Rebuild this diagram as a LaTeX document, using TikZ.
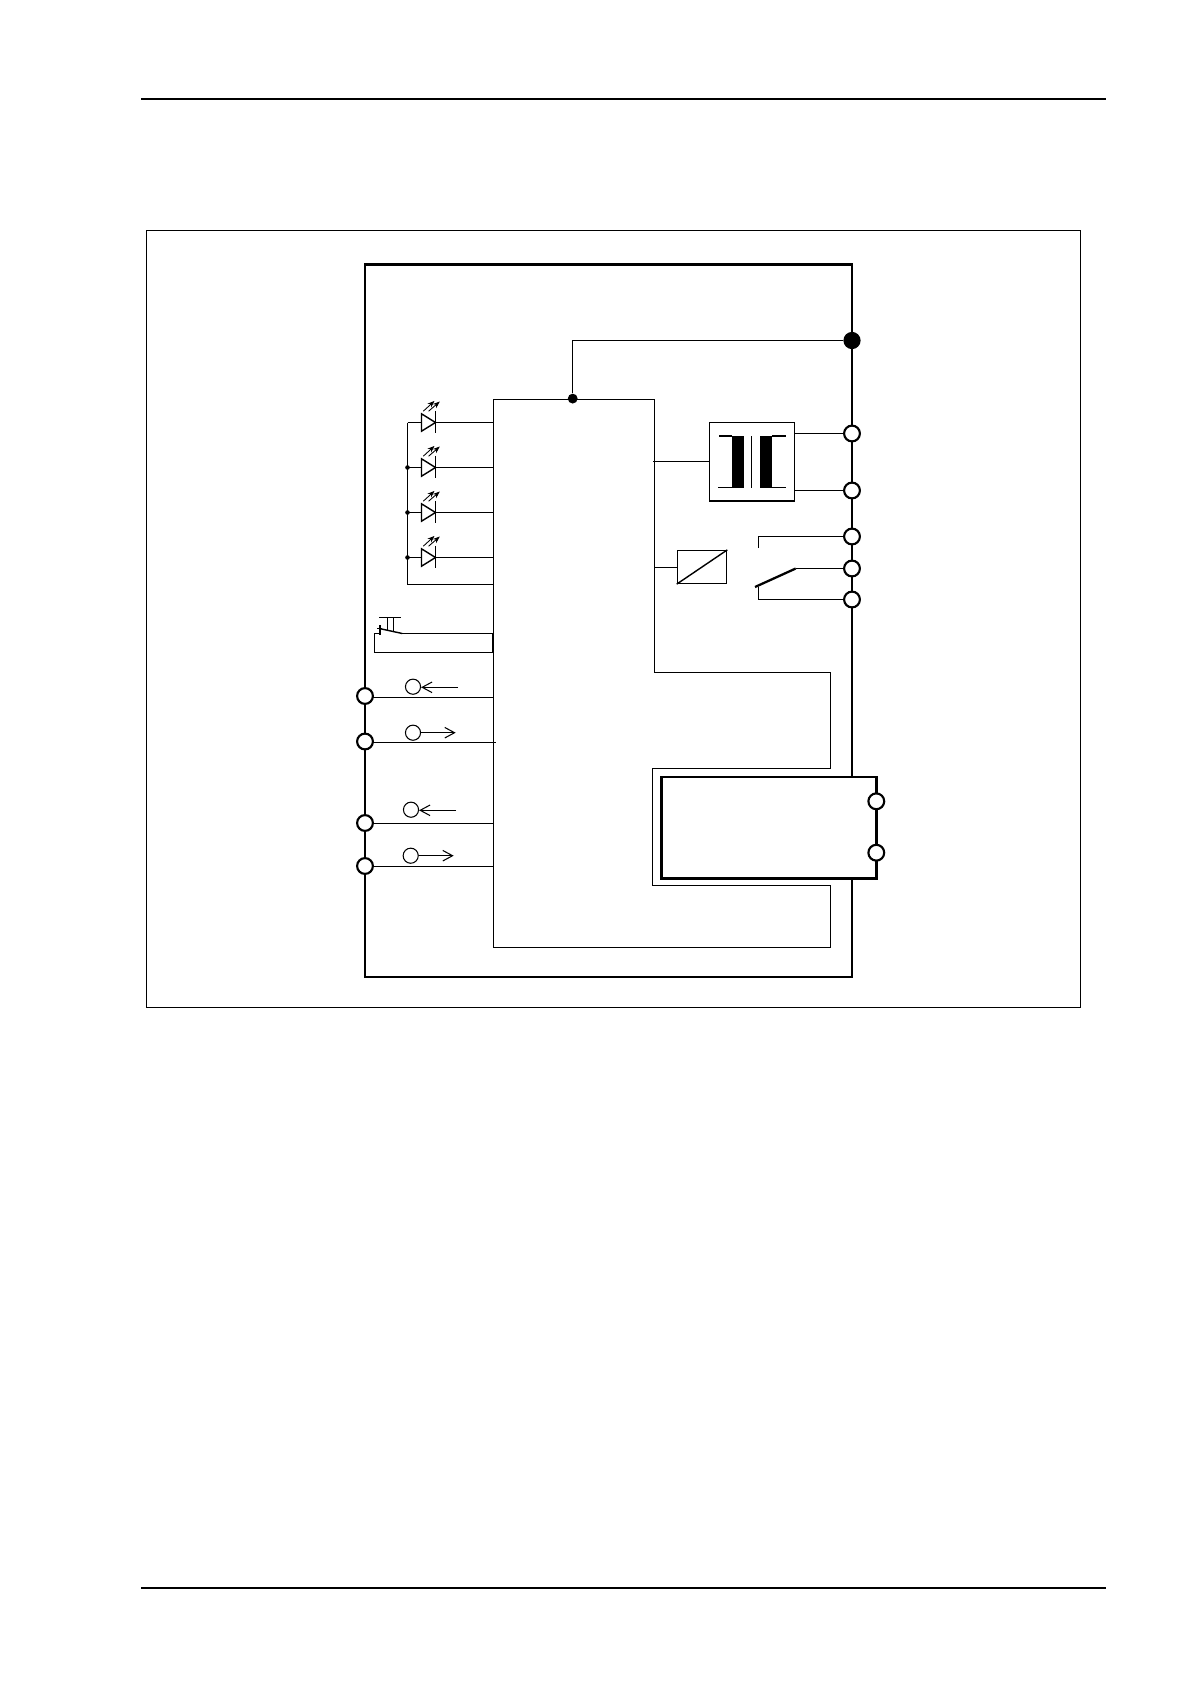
\documentclass[tikz,border=0pt]{standalone}
\usetikzlibrary{arrows.meta}
\pgfdeclarelayer{background}
\pgfsetlayers{background,main}
\tikzstyle{terminal}=[circle,draw,fill=white,line width=1.2pt,minimum size=9pt,inner sep=0pt]
\tikzstyle{probe}=[circle,draw,line width=0.6pt,minimum size=8.6pt,inner sep=0pt]
\tikzstyle{joint}=[circle,fill=black,minimum size=5.6pt,inner sep=0pt]
\tikzstyle{tap}=[circle,fill=black,minimum size=2.6pt,inner sep=0pt]
\tikzstyle{hub}=[circle,fill=black,minimum size=9.8pt,inner sep=0pt]
\tikzstyle{block}=[draw,line width=0.8pt,inner sep=0pt]
\tikzstyle{wire}=[draw,line width=0.8pt]
\tikzstyle{heavy}=[draw,line width=1.3pt]
\tikzstyle{rule}=[draw,line width=1.3pt]
\tikzstyle{flow}=[draw,line width=0.6pt,-{Straight Barb[length=5.6pt,width=6pt]}]
\tikzstyle{beam}=[draw,line width=0.5pt,-{Stealth[length=4pt,width=3pt]}]

\begin{document}
\begin{tikzpicture}[x=0.02cm,y=-0.02cm]
	\useasboundingbox (0,0) rectangle (1190,1684);

	% First we draw the blocks and the terminals
	\node[hub] (earth) at (852,340.5) {};
	\node[joint] (feed) at (572.7,398.6) {};
	\node[block,minimum width=48.4pt,minimum height=44.8pt] (trafo) at (752,461.8) {};
	\node[block,minimum width=28pt,minimum height=18.7pt] (conv) at (702,567) {};
	\node[draw,line width=1.35pt,minimum width=122.4pt,minimum height=57.6pt,inner sep=0pt] (modul) at (769,827.8) {};

	\foreach \pos/\name in {{(365,696)/la}, {(365,741.5)/lb}, {(365,823)/lc}, {(365,866)/ld},
							{(852,433.5)/ra}, {(852,490.5)/rb}, {(852,536.5)/rc}, {(852,568.5)/rd},
							{(852,599.5)/re}, {(876.3,801.3)/sa}, {(876.3,852.7)/sb}}
	\node[terminal] (\name) at \pos {};

	\foreach \pos/\name in {{(413,686.7)/pa}, {(413,732.7)/pb}, {(411,809.7)/pc}, {(410.7,855.7)/pd}}
	\node[probe] (\name) at \pos {};

	% Fixed points of the two buses
	\foreach \pos/\name in {{(493.5,399.5)/nw}, {(654.5,399.5)/ne}, {(654.5,672.5)/bend}, {(830.5,672.5)/bendr},
							{(830.5,768.5)/loopa}, {(652.5,768.5)/loopb}, {(652.5,885.5)/loopc},
							{(830.5,885.5)/loopd}, {(830.5,947.5)/loope}, {(493.5,947.5)/sw},
							{(365,264.5)/boxnw}, {(852,264.5)/boxne}, {(852,977)/boxse}, {(365,977)/boxsw}}
	\path \pos coordinate (\name);

	\begin{pgfonlayer}{background}
		% Outer frames
		\path[rule] (141,99) -- (1106,99);
		\path[rule] (141,1588) -- (1106,1588);
		\path[draw,line width=0.7pt] (146.5,230.5) rectangle (1080.5,1007.5);

		\path[heavy] (boxne |- modul.north) -- (boxne) -- (boxnw) -- (boxsw) -- (boxse) -- (boxse |- modul.south);

		% Inner wiring
		\path[wire] (feed) -- (feed |- earth) -- (earth);
		\path[wire] (sw) -- (nw) -- (ne) -- (bend) -- (bendr) -- (loopa) -- (loopb) -- (loopc) -- (loopd) -- (loope) -- (sw);

		% Lines to the left terminals
		\foreach \source/\ypos in {la/697.5, lb/742.5, lc/823.5, ld/866.5}
		\path[wire] (\source |- 0,\ypos) -- (nw |- 0,\ypos);
		\path[wire] (nw |- 0,742.5) -- (496,742.5);

		% Transformer
		\path[wire] (653,461.5) -- (trafo.west |- 0,461.5);
		\foreach \dest in {ra,rb}
		\path[wire] (trafo.east |- \dest) -- (\dest);

		% Relay
		\path[wire] (ne |- 0,567.5) -- (conv.west |- 0,567.5);
		\path[wire] (conv.south west) -- (conv.north east);
		\path[wire] (758.5,548) -- (758.5,536.5) -- (rc);
		\path[wire] (758.5,587) -- (758.5,599.5) -- (re);
		\path[wire] (795.7,568.5) -- (rd);
		\path[draw,line width=1.3pt] (755,587) -- (795.7,568.5);
	\end{pgfonlayer}

	% Indicators
	\foreach \row/\ypos in {a/422.5, b/467.5, c/512.5, d/557.5} {
		\coordinate (led\row) at (435.5,\ypos);
		\path[wire] (407.5,\ypos) -- (nw |- 0,\ypos);
		\path[draw,line width=0.8pt,fill=white] (421.5,\ypos-8.7) -- (led\row) -- (421.5,\ypos+8.7) -- cycle;
		\path[wire] (435.5,\ypos-11.7) -- (435.5,\ypos+10.7);
		\path[beam] (423.3,\ypos-11.3) -- (434.5,\ypos-21.6);
		\path[beam] (428.6,\ypos-11.3) -- (439.8,\ypos-21);
	}
	\foreach \name/\ypos in {tb/467.5, tc/512.5, td/557.5}
	\node[tap] (\name) at (407.5,\ypos) {};
	\path[wire] (407.5,422.5) -- (407.5,584.5) -- (nw |- 0,584.5);

	% Push button
	\coordinate (btnr) at (402.3,633.5);
	\path[wire] (380,633.5) -- (374.5,633.5) -- (374.5,652.5) -- (492.5,652.5) -- (492.5,633.5) -- (btnr);
	\path[draw,line width=1pt] (492.5,633.5) -- (492.5,652.5);
	\path[wire] (379.3,628.5) -- (btnr);
	\path[wire] (380,625) -- (380,635);
	\path[wire] (377.3,628.5) -- (381.7,628.5);
	\path[wire] (379,617.5) -- (401,617.5);
	\path[wire] (387.5,617.5) -- (387.5,631);
	\path[wire] (393.5,617.5) -- (393.5,632);

	% Transformer core
	\path[fill=black] (731.7,436) rectangle (744,487.7);
	\path[fill=black] (760,436) rectangle (772.3,487.7);
	\path[wire] (751.5,436) -- (751.5,487.7);
	\path[wire] (719,436) -- (731.7,436);
	\path[wire] (772.3,436) -- (786,436);
	\path[wire] (718,487.5) -- (731.7,487.5);
	\path[wire] (772.3,487.5) -- (786,487.5);

	% Direction arrows at the probes
	\path[flow] (458,687.3) -- (pa.east |- 0,687.3);
	\path[flow] (pb.east) -- (455.7,732.7);
	\path[flow] (456,810.3) -- (pc.east |- 0,810.3);
	\path[flow] (pd.east) -- (453.7,855.7);
\end{tikzpicture}
\end{document}
